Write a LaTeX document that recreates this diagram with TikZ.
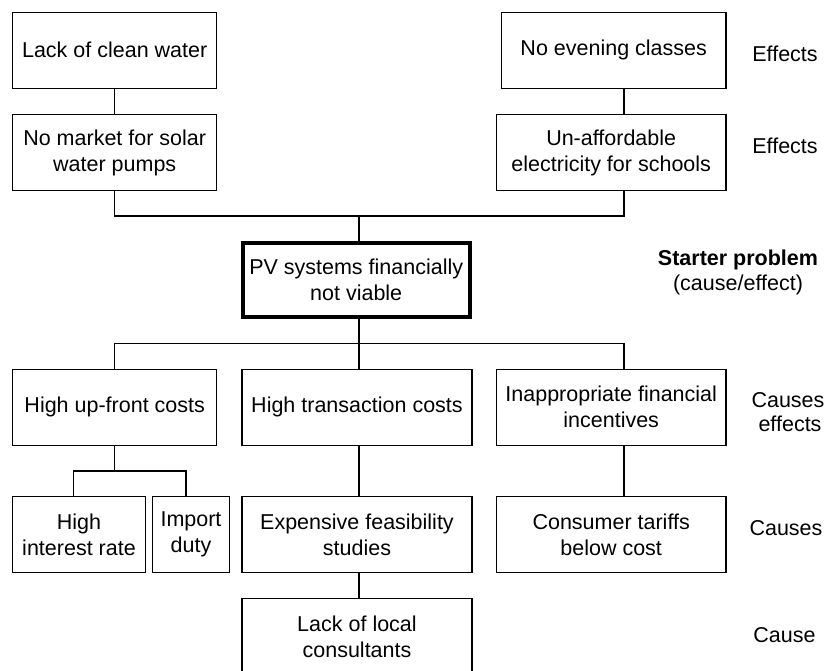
\documentclass[tikz,border=0pt]{standalone}
\usepackage{fontspec}
\setmainfont{Liberation Sans}
\begin{document}
\begin{tikzpicture}[x=1pt,y=-1pt,
  every node/.style={font=\fontsize{21.5}{26}\selectfont, inner sep=0pt, outer sep=0pt},
  box/.style={draw, line width=1.2pt, rectangle, align=center, minimum height=76pt},
  bigbox/.style={draw, line width=4pt, rectangle, align=center, minimum width=227pt, minimum height=74.6pt},
  side/.style={anchor=base, align=center},
  link/.style={line width=1.2pt}]
\clip (0,0) rectangle (825,671);
% boxes
\node[box, minimum width=204pt]   (A) at (114.7,50.3)  {Lack of clean water};
\node[box, minimum width=224.7pt] (B) at (613.7,50.3)  {No evening classes};
\node[box, minimum width=204pt]   (C) at (114.7,152.5) {No market for solar\\water pumps};
\node[box, minimum width=229.7pt] (D) at (611.2,152.5) {Un-affordable\\electricity for schools};
\node[bigbox] (P) at (356.2,280) {PV systems financially\\not viable};
\node[box, minimum width=204pt]   (E) at (114.7,407.2) {High up-front costs};
\node[box, minimum width=230pt]   (F) at (357,407.2)   {High transaction costs};
\node[box, minimum width=229.7pt] (G) at (611.2,407.2) {Inappropriate financial\\incentives};
\node[box, minimum width=132.6pt] (H) at (79,534.5)    {High\\interest rate};
\node[box, minimum width=76.6pt]  (I) at (191,534.5)   {Import\\duty};
\node[box, minimum width=230pt]   (J) at (357,534.5)   {Expensive feasibility\\studies};
\node[box, minimum width=229.7pt] (K) at (611.2,534.5) {Consumer tariffs\\below cost};
\node[box, minimum width=230pt]   (L) at (357,636.5)   {Lack of local\\consultants};
% column coordinates
\coordinate (cl) at (114.7,0);
\coordinate (cm) at (359,0);
\coordinate (cr) at (624,0);
\coordinate (ca) at (73.7,0);
\coordinate (cb) at (186,0);
% connectors
\draw[link] (A.south -| cl) -- (C.north -| cl);
\draw[link] (B.south -| cr) -- (D.north -| cr);
\draw[link] (C.south -| cl) |- (359,216) -| (D.south -| cr);
\draw[link] (359,216) -- (P.north -| cm);
\draw[link] (P.south -| cm) -- (359,343.3);
\draw[link] (E.north -| cl) |- (359,343.3) -| (G.north -| cr);
\draw[link] (359,343.3) -- (F.north -| cm);
\draw[link] (E.south -| cl) -- (114.7,471);
\draw[link] (H.north -| ca) |- (114.7,471) -| (I.north -| cb);
\draw[link] (F.south -| cm) -- (J.north -| cm);
\draw[link] (J.south -| cm) -- (L.north -| cm);
\draw[link] (G.south -| cr) -- (K.north -| cr);
% side labels
\node[side] (s1) at (785,61.7) {Effects};
\node[side] (s2) at (785,154) {Effects};
\node[side] (s3) at (738,265.7) {\bfseries Starter problem};
\node[side] (s4) at (738,290.5) {(cause/effect)};
\node[side] (s5) at (788,407.3) {Causes};
\node[side] (s6) at (790,431) {effects};
\node[side] (s7) at (786,535) {Causes};
\node[side] (s8) at (784.5,642.7) {Cause};
\end{tikzpicture}
\end{document}
